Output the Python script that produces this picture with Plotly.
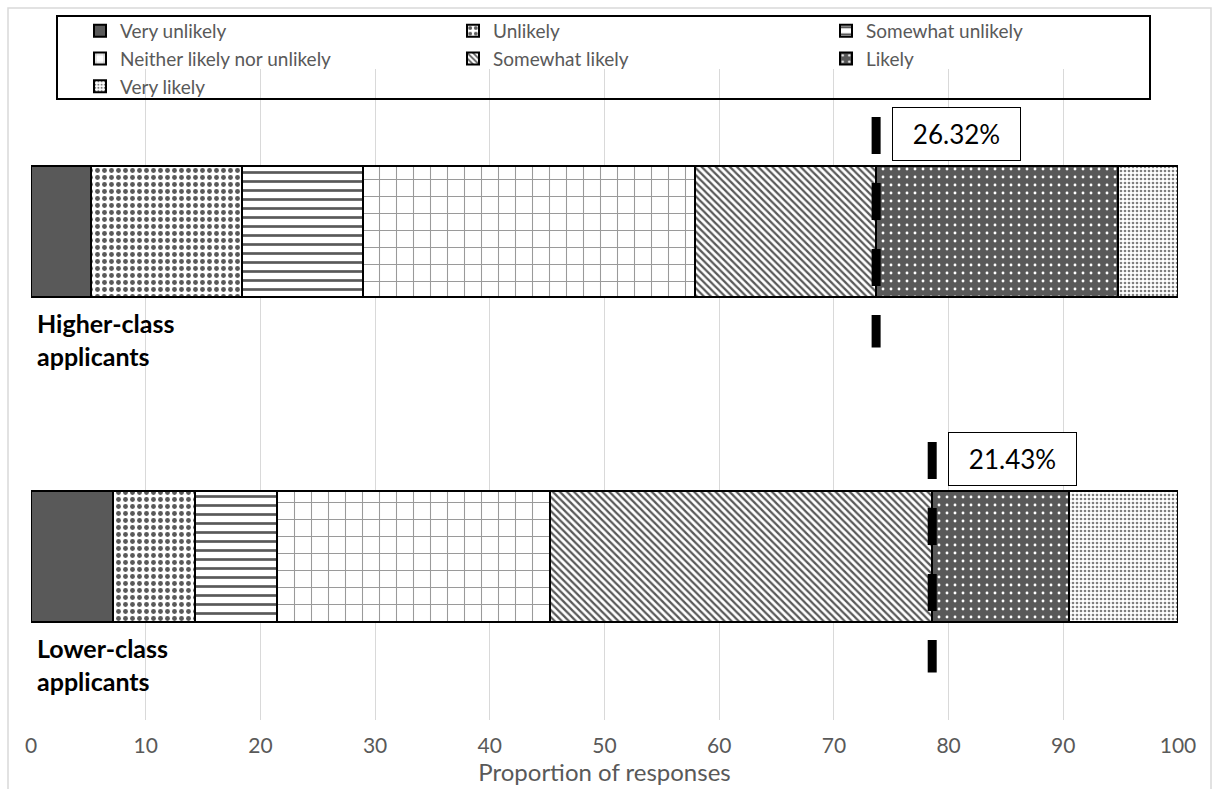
import plotly.graph_objects as go

# Response categories (stack order, left to right)
responses = [
    "Very unlikely",
    "Unlikely",
    "Somewhat unlikely",
    "Neither likely nor unlikely",
    "Somewhat likely",
    "Likely",
    "Very likely",
]

# Percentage of responses per category
higher_class = [5.26, 13.16, 10.53, 28.95, 15.78, 21.06, 5.26]
lower_class = [7.14, 7.15, 7.14, 23.81, 33.33, 11.90, 9.53]

group_labels = ["Higher-class<br>applicants", "Lower-class<br>applicants"]
group_values = [higher_class, lower_class]
group_pos = [1, 0]

x_ticks = [0, 10, 20, 30, 40, 50, 60, 70, 80, 90, 100]

DARK = "#595959"
TEXT_GREY = "#595959"
FONT = "Lato"

# Fill pattern for each response category
fills = [
    dict(shape="", fgcolor=DARK, bgcolor=DARK, solidity=1.0, size=8),
    dict(shape=".", fgcolor=DARK, bgcolor="white", solidity=0.38, size=7),
    dict(shape="-", fgcolor=DARK, bgcolor="white", solidity=0.3, size=9),
    dict(shape="+", fgcolor="#9a9a9a", bgcolor="white", solidity=0.12, size=17),
    dict(shape="\\", fgcolor=DARK, bgcolor="white", solidity=0.45, size=5),
    dict(shape=".", fgcolor="white", bgcolor=DARK, solidity=0.1, size=8),
    dict(shape=".", fgcolor="#7f7f7f", bgcolor="white", solidity=0.35, size=4),
]

fig = go.Figure()

for i, name in enumerate(responses):
    f = fills[i]
    marker = dict(color=f["bgcolor"] if f["shape"] == "" else f["fgcolor"],
                  line=dict(color="black", width=2))
    if f["shape"]:
        marker["pattern"] = dict(shape=f["shape"], fgcolor=f["fgcolor"],
                                 bgcolor=f["bgcolor"], solidity=f["solidity"],
                                 size=f["size"], fillmode="replace")
    fig.add_trace(go.Bar(
        name=name,
        orientation="h",
        x=[vals[i] for vals in group_values],
        y=group_pos,
        width=0.403,
        marker=marker,
        hoverinfo="x+name",
    ))

annotations = []
for label, vals, pos in zip(group_labels, group_values, group_pos):
    boundary = sum(vals[:5])          # start of "Likely"
    likely_share = sum(vals[5:])      # Likely + Very likely
    # dashed marker at the Likely boundary
    fig.add_trace(go.Scatter(
        x=[boundary, boundary],
        y=[pos + 0.352, pos - 0.357],
        mode="lines",
        line=dict(color="black", width=9, dash="37px,29px"),
        showlegend=False,
        hoverinfo="skip",
    ))
    annotations.append(dict(
        x=boundary, y=pos + 0.3, xref="x", yref="y",
        text=f"{likely_share:.2f}%", showarrow=False,
        xanchor="left", yanchor="middle", xshift=16,
        width=125, height=50, borderpad=1,
        bordercolor="black", borderwidth=1, bgcolor="white",
        font=dict(family=FONT, size=26, color="black"),
    ))
    annotations.append(dict(
        x=0, y=pos, xref="x", yref="y",
        text=f"<b>{label}</b>", showarrow=False,
        xanchor="left", yanchor="middle", align="left",
        xshift=4, yshift=-108,
        font=dict(family=FONT, size=25, color="black"),
    ))

# paper coordinates helpers for the plot box (31..1178 x, 69..720 y)
L, R, T, B = 31, 1178, 69, 720
def px(xp):
    return (xp - L) / (R - L)
def py(yp):
    return (B - yp) / (B - T)

shapes = [
    # outer chart border
    dict(type="rect", xref="paper", yref="paper",
         x0=px(8), x1=px(1211), y0=py(800), y1=py(8),
         line=dict(color="#d9d9d9", width=1.5), layer="below"),
    # legend frame
    dict(type="rect", xref="paper", yref="paper",
         x0=px(57), x1=px(1150), y0=py(99), y1=py(16),
         line=dict(color="black", width=2)),
]

fig.update_layout(
    width=1218, height=789,
    margin=dict(l=L, r=1218 - R, t=T, b=789 - B),
    paper_bgcolor="white", plot_bgcolor="white",
    barmode="stack",
    bargap=0,
    font=dict(family=FONT, color=TEXT_GREY),
    showlegend=True,
    legend=dict(
        orientation="h", traceorder="normal",
        x=px(80), xanchor="left", y=py(12), yanchor="top",
        entrywidth=328, entrywidthmode="pixels",
        font=dict(family=FONT, size=19, color=TEXT_GREY),
        bgcolor="rgba(0,0,0,0)", borderwidth=0,
    ),
    xaxis=dict(
        range=[0, 100], tickvals=x_ticks, showgrid=True,
        gridcolor="#d9d9d9", gridwidth=1, zeroline=False, showline=False,
        ticks="", ticklabelstandoff=11,
        tickfont=dict(family=FONT, size=21, color=TEXT_GREY),
        title=dict(text="Proportion of responses", standoff=2,
                   font=dict(family=FONT, size=24, color=TEXT_GREY)),
        fixedrange=True,
    ),
    yaxis=dict(
        range=[-0.503, 1.5], showticklabels=False, showgrid=False,
        zeroline=False, showline=False, fixedrange=True,
    ),
    annotations=annotations,
    shapes=shapes,
)

fig.write_html("out.html")
